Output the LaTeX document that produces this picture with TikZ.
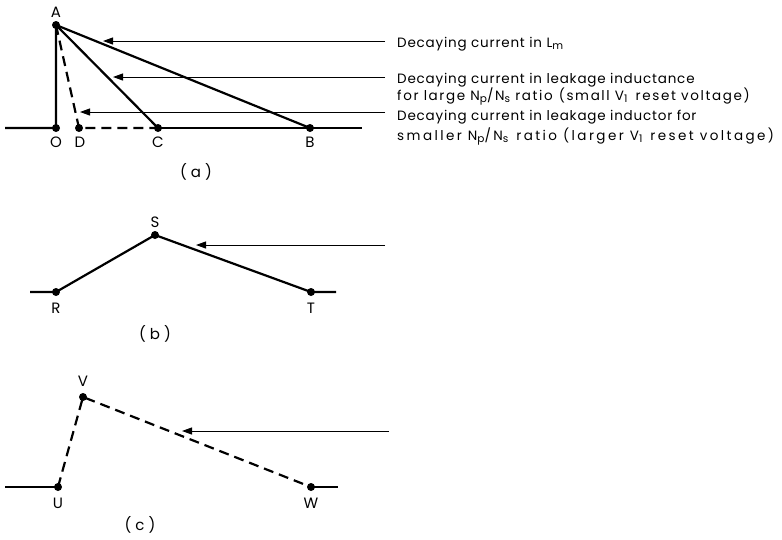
\documentclass[tikz,border=0pt]{standalone}
\usepackage{fontspec}
\setmainfont{Poppins}
\newfontfamily\spacedfont[LetterSpace=6]{Poppins}
\newfontfamily\widerfont[LetterSpace=12]{Poppins}
\newfontfamily\widestfont[LetterSpace=18]{Poppins}
\usetikzlibrary{arrows.meta}
\newcommand{\lsub}[1]{\raisebox{-0.4ex}{\fontsize{10.5}{10.5}\selectfont #1}}
\begin{document}
\begin{tikzpicture}[x=1pt,y=-1pt,
 wave/.style={line width=2.2pt},
 dashwave/.style={line width=2.2pt, dash pattern=on 10pt off 6pt},
 pointer/.style={line width=1pt,-{Triangle[length=10pt,width=7pt]}},
 dot/.style={circle,fill,inner sep=0pt,minimum size=8pt},
 lbl/.style={font=\fontsize{15}{17}\selectfont, inner sep=0pt},
 txt/.style={font=\spacedfont\fontsize{13.5}{16}\selectfont, anchor=base west, inner sep=0pt},
 txtw/.style={txt, font=\widerfont\fontsize{13.5}{16}\selectfont},
 txtww/.style={txt, font=\widestfont\fontsize{13.5}{16}\selectfont}]
\useasboundingbox (0,0) rectangle (782,539);
% ---------- (a)
\node[dot] (A) at (56,25) {};
\node[dot] (O) at (56,128) {};
\node[dot] (D) at (79,128) {};
\node[dot] (C) at (158,128) {};
\node[dot] (B) at (310,128) {};
\coordinate (aL) at (5,128);
\coordinate (aR) at (362,128);
\draw[wave] (aL) -- (O.center) -- (A.center) -- (C.center);
\draw[wave] (A.center) -- (B.center);
\draw[wave] (C.center) -- (aR);
\draw[dashwave] (A.center) -- (D.center) -- (C.center);
\node[lbl] (lA) at (56,12) {A};
\node[lbl] (lO) at (56,142) {O};
\node[lbl] (lD) at (80,142) {D};
\node[lbl] (lC) at (158,142) {C};
\node[lbl] (lB) at (310,142) {B};
\node[lbl] (la) at (196,172) {( a )};
\coordinate (p1s) at (385,41); \coordinate (p1e) at (103,41);
\coordinate (p2s) at (385,77); \coordinate (p2e) at (113,77);
\coordinate (p3s) at (385,112); \coordinate (p3e) at (80,112);
\draw[pointer] (p1s) -- (p1e);
\draw[pointer] (p2s) -- (p2e);
\draw[pointer] (p3s) -- (p3e);
\node[txt] (t1) at (397,47) {Decaying current in L\lsub{m}};
\node[txt] (t2a) at (397,83) {Decaying current in leakage inductance};
\node[txtw] (t2b) at (397,100) {for large N\lsub{p}/N\lsub{s} ratio\hspace{6pt}(small V\lsub{1}\hspace{3pt} reset voltage)};
\node[txt] (t3a) at (397,120) {Decaying current in leakage inductor for};
\node[txtww] (t3b) at (397,140) {smaller N\lsub{p}/N\lsub{s}\hspace{8pt}ratio (larger V\lsub{1}\hspace{8pt}reset voltage)};
% ---------- (b)
\node[dot] (R) at (56,292) {};
\node[dot] (S) at (155,235) {};
\node[dot] (T) at (311,292) {};
\coordinate (bL) at (30,292);
\coordinate (bR) at (336,292);
\draw[wave] (bL) -- (R.center) -- (S.center) -- (T.center) -- (bR);
\node[lbl] (lS) at (155,222) {S};
\node[lbl] (lR) at (56,308) {R};
\node[lbl] (lT) at (311,308) {T};
\node[lbl] (lb) at (155,334) {( b )};
\coordinate (p4s) at (385,245); \coordinate (p4e) at (196,245);
\draw[pointer] (p4s) -- (p4e);
% ---------- (c)
\node[dot] (U) at (58,487) {};
\node[dot] (V) at (83,397) {};
\node[dot] (W) at (311,487) {};
\coordinate (cL) at (5,487);
\coordinate (cR) at (338,487);
\draw[wave] (cL) -- (U.center);
\draw[wave] (W.center) -- (cR);
\draw[dashwave] (U.center) -- (V.center) -- (W.center);
\node[lbl] (lV) at (83,381) {V};
\node[lbl] (lU) at (58,503) {U};
\node[lbl] (lW) at (311,503) {W};
\node[lbl] (lc) at (140,525) {( c )};
\coordinate (p5s) at (389,431); \coordinate (p5e) at (182,431);
\draw[pointer] (p5s) -- (p5e);
\end{tikzpicture}
\end{document}
